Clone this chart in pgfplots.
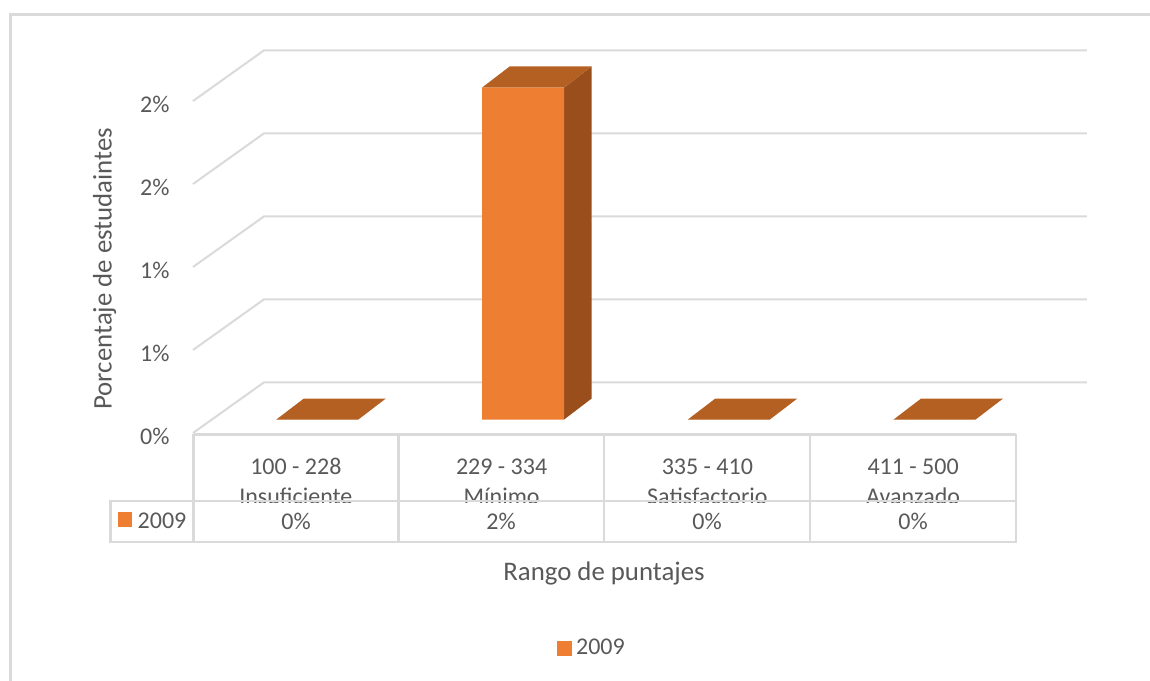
\documentclass[border=0pt]{standalone}
\usepackage{fontspec}
\setmainfont{Carlito}
\usepackage{pgfplots}
\pgfplotsset{compat=1.18}
\usepackage{pgfplotstable}

\definecolor{barfront}{HTML}{EE7E31}
\definecolor{bartop}{HTML}{B46022}
\definecolor{barside}{HTML}{994E1C}
\definecolor{rulegrey}{HTML}{DADADA}
\definecolor{inkgrey}{HTML}{595959}

% Share of students per score band, in percent
\pgfplotstableread{
x    v
0.5  0
1.5  2
2.5  0
3.5  0
}\scores

% Top face of a 3D column, anchored at the middle of its front edge
\pgfdeclareplotmark{columntop}{%
  \pgfpathmoveto{\pgfqpoint{-41pt}{0pt}}%
  \pgfpathlineto{\pgfqpoint{41pt}{0pt}}%
  \pgfpathlineto{\pgfqpoint{68.5pt}{21pt}}%
  \pgfpathlineto{\pgfqpoint{-13.5pt}{21pt}}%
  \pgfpathclose
  \pgfusepathqfill}

\begin{document}
\begin{tikzpicture}[x=1pt,y=1pt,font=\fontsize{24}{30}\selectfont,text=inkgrey]
  \path[use as bounding box] (0,0) rectangle (1150,680);
  % chart frame, open at the right and the bottom
  \draw[rulegrey,line width=3pt] (10.5,-5) -- (10.5,665.5) -- (1155,665.5);

  \begin{axis}[
    at={(193pt,247pt)},anchor=south west,
    scale only axis,width=823pt,height=332pt,
    xmin=0,xmax=4,ymin=0,ymax=2,
    clip=false,
    axis line style={draw=none},
    tick style={draw=none},
    xtick={0.5,1.5,2.5,3.5},
    xticklabels={100 - 228\\Insuficiente,229 - 334\\Mínimo,335 - 410\\Satisfactorio,411 - 500\\Avanzado},
    xticklabel style={align=center,yshift=-22pt,font=\fontsize{24}{30}\selectfont,text=inkgrey},
    ytick={0,0.5,1,1.5,2},
    yticklabels={0\%,1\%,1\%,2\%,2\%},
    yticklabel style={xshift=-20pt,yshift=-3pt,text=inkgrey},
    ylabel={\fontsize{26.8}{30}\selectfont Porcentaje de estudaintes},
    ylabel style={at={(axis description cs:-0.1075,0.495)},anchor=center,rotate=0,text=inkgrey},
    legend style={at={(0.4845,-0.6465)},anchor=center,draw=none,fill=none,text=inkgrey},
    legend image code/.code={\fill[barfront] (-2pt,-8pt) rectangle (12pt,6pt);},
    legend style={/tikz/every odd column/.append style={column sep=3pt}},
  ]
    % gridlines along side wall and back wall
    \addplot[forget plot,rulegrey,line width=2pt] coordinates {(0,0) (0.345,0.305) (4.345,0.305)};
    \addplot[forget plot,rulegrey,line width=2pt] coordinates {(0,0.5) (0.345,0.805) (4.345,0.805)};
    \addplot[forget plot,rulegrey,line width=2pt] coordinates {(0,1) (0.345,1.305) (4.345,1.305)};
    \addplot[forget plot,rulegrey,line width=2pt] coordinates {(0,1.5) (0.345,1.805) (4.345,1.805)};
    \addplot[forget plot,rulegrey,line width=2pt] coordinates {(0,2) (0.345,2.305) (4.345,2.305)};

    % right-hand face of the one column with height
    \addplot[forget plot,draw=none,fill=barside,xshift=21.5pt,yshift=13.5pt]
      coordinates {(1.6993,0) (1.8330,0.1265) (1.8330,2.1265) (1.6993,2)} -- cycle;
    % front faces
    \addplot[forget plot,ybar,bar width=82pt,bar shift=0pt,draw=none,fill=barfront,xshift=21.5pt,yshift=13.5pt]
      table[x=x,y=v] {\scores};
    % top faces
    \addplot[forget plot,only marks,mark=columntop,mark options={draw=none,fill=bartop},xshift=21.5pt,yshift=13.5pt]
      table[x=x,y=v] {\scores};

    \addlegendimage{barfront}
    \addlegendentry{2009}
  \end{axis}

  % lower part of the category cells, hiding what overruns them
  \fill[white] (111,137) rectangle (1018,176.5);
  % data table rules
  \begin{scope}[rulegrey,line width=2.5pt]
    \draw (193.5,680-434.5) -- (1016,680-434.5);
    \draw (193.5,680-434.5) -- (193.5,680-542);
    \draw (398.5,680-434.5) -- (398.5,680-542);
    \draw (604,680-434.5) -- (604,680-542);
    \draw (810,680-434.5) -- (810,680-542);
    \draw (1016,680-434.5) -- (1016,680-542);
    \draw (110.5,680-501) rectangle (1016,680-542);
  \end{scope}
  % data table row
  \fill[barfront] (118,680-526.5) rectangle (132,680-512.5);
  \node[anchor=west,inner sep=0pt] at (137.5,680-521) {2009};
  \node at (296,680-521.5) {0\%};
  \node at (501,680-521.5) {2\%};
  \node at (707,680-521.5) {0\%};
  \node at (913,680-521.5) {0\%};
  % category axis title
  \node at (604,680-573.5) {\fontsize{26.8}{30}\selectfont Rango de puntajes};
\end{tikzpicture}
\end{document}
